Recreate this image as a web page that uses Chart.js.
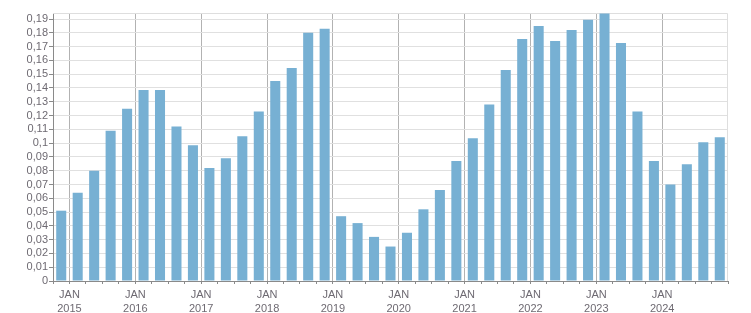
<!DOCTYPE html>
<html>
<head>
<meta charset="utf-8">
<script src="https://cdn.jsdelivr.net/npm/chart.js@4/dist/chart.umd.min.js"></script>
<style>
  html, body { margin: 0; padding: 0; background: #fff; }
  canvas { display: block; }
</style>
</head>
<body>
<canvas id="grafico" width="751" height="313"></canvas>
<script>
// trimestres, del 4T 2014 al 4T 2024
var trimestres = ['2014-T4',
  '2015-T1', '2015-T2', '2015-T3', '2015-T4',
  '2016-T1', '2016-T2', '2016-T3', '2016-T4',
  '2017-T1', '2017-T2', '2017-T3', '2017-T4',
  '2018-T1', '2018-T2', '2018-T3', '2018-T4',
  '2019-T1', '2019-T2', '2019-T3', '2019-T4',
  '2020-T1', '2020-T2', '2020-T3', '2020-T4',
  '2021-T1', '2021-T2', '2021-T3', '2021-T4',
  '2022-T1', '2022-T2', '2022-T3', '2022-T4',
  '2023-T1', '2023-T2', '2023-T3', '2023-T4',
  '2024-T1', '2024-T2', '2024-T3', '2024-T4'];

var valores = [0.051,
  0.064, 0.080, 0.109, 0.125,
  0.1385, 0.1385, 0.112, 0.0985,
  0.082, 0.089, 0.105, 0.123,
  0.145, 0.1545, 0.180, 0.183,
  0.047, 0.042, 0.032, 0.025,
  0.035, 0.052, 0.066, 0.087,
  0.1035, 0.128, 0.153, 0.1755,
  0.185, 0.174, 0.182, 0.1895,
  0.194, 0.1727, 0.123, 0.087,
  0.070, 0.0846, 0.1007, 0.1043];

var anios = [2015, 2016, 2017, 2018, 2019, 2020, 2021, 2022, 2023, 2024];
var etiquetaMes = 'JAN';

// posicion de cada barra: centro del trimestre (0 = inicio del 4T 2014)
var puntos = valores.map(function (v, i) {
  return { x: i + 0.5, y: v };
});

function indiceAnio(v) {
  // el tick v es el inicio de un trimestre; v=1 es enero 2015
  if ((v - 1) % 4 !== 0) return -1;
  var k = (v - 1) / 4;
  return k < anios.length ? k : -1;
}

// marco superior y derecho del area del grafico
var marco = {
  id: 'marco',
  beforeDatasetsDraw: function (chart) {
    var a = chart.chartArea;
    var ctx = chart.ctx;
    ctx.save();
    ctx.strokeStyle = '#dedede';
    ctx.lineWidth = 1;
    ctx.beginPath();
    ctx.moveTo(a.left, a.top + 0.5);
    ctx.lineTo(a.right - 0.5, a.top + 0.5);
    ctx.lineTo(a.right - 0.5, a.bottom);
    ctx.stroke();
    ctx.restore();
  }
};

Chart.defaults.font.family = "'Liberation Sans', Arial, sans-serif";
Chart.defaults.font.size = 11;
Chart.defaults.color = '#6e6a72';

new Chart(document.getElementById('grafico'), {
  type: 'bar',
  data: {
    datasets: [{
      label: 'valor',
      data: puntos,
      backgroundColor: '#77b0d3',
      borderWidth: 0,
      barPercentage: 0.61,
      categoryPercentage: 1
    }]
  },
  options: {
    responsive: false,
    animation: false,
    devicePixelRatio: 1,
    layout: { padding: { top: 13, right: 23, left: 0, bottom: 0 } },
    plugins: {
      legend: { display: false },
      tooltip: { enabled: false }
    },
    scales: {
      x: {
        type: 'linear',
        offset: false,
        min: 0,
        max: trimestres.length,
        afterBuildTicks: function (scale) {
          var t = [];
          for (var i = 0; i <= trimestres.length; i++) t.push({ value: i });
          scale.ticks = t;
        },
        afterFit: function (scale) { scale.height = 32; },
        grid: {
          offset: false,
          color: function (c) {
            var v = c.tick ? c.tick.value : 0;
            return indiceAnio(v) >= 0 ? '#b2b2b2' : 'rgba(0,0,0,0)';
          },
          tickColor: '#8a8a8a',
          tickLength: 3,
          lineWidth: 1
        },
        border: { color: '#8a8a8a', width: 1 },
        ticks: {
          autoSkip: false,
          maxRotation: 0,
          minRotation: 0,
          padding: 4,
          font: { lineHeight: 1.25 },
          callback: function (v) {
            var k = indiceAnio(v);
            return k >= 0 ? [etiquetaMes, String(anios[k])] : '';
          }
        }
      },
      y: {
        min: 0,
        max: 0.1944,
        afterFit: function (scale) { scale.width = 53; },
        grid: {
          color: '#e0e0e0',
          tickColor: '#8a8a8a',
          tickLength: 4
        },
        border: { color: '#8a8a8a', width: 1 },
        ticks: {
          stepSize: 0.01,
          includeBounds: false,
          autoSkip: false,
          padding: 1,
          callback: function (v) {
            var r = Math.round(v * 100) / 100;
            return String(r).replace('.', ',');
          }
        }
      }
    }
  },
  plugins: [marco]
});
</script>
</body>
</html>
